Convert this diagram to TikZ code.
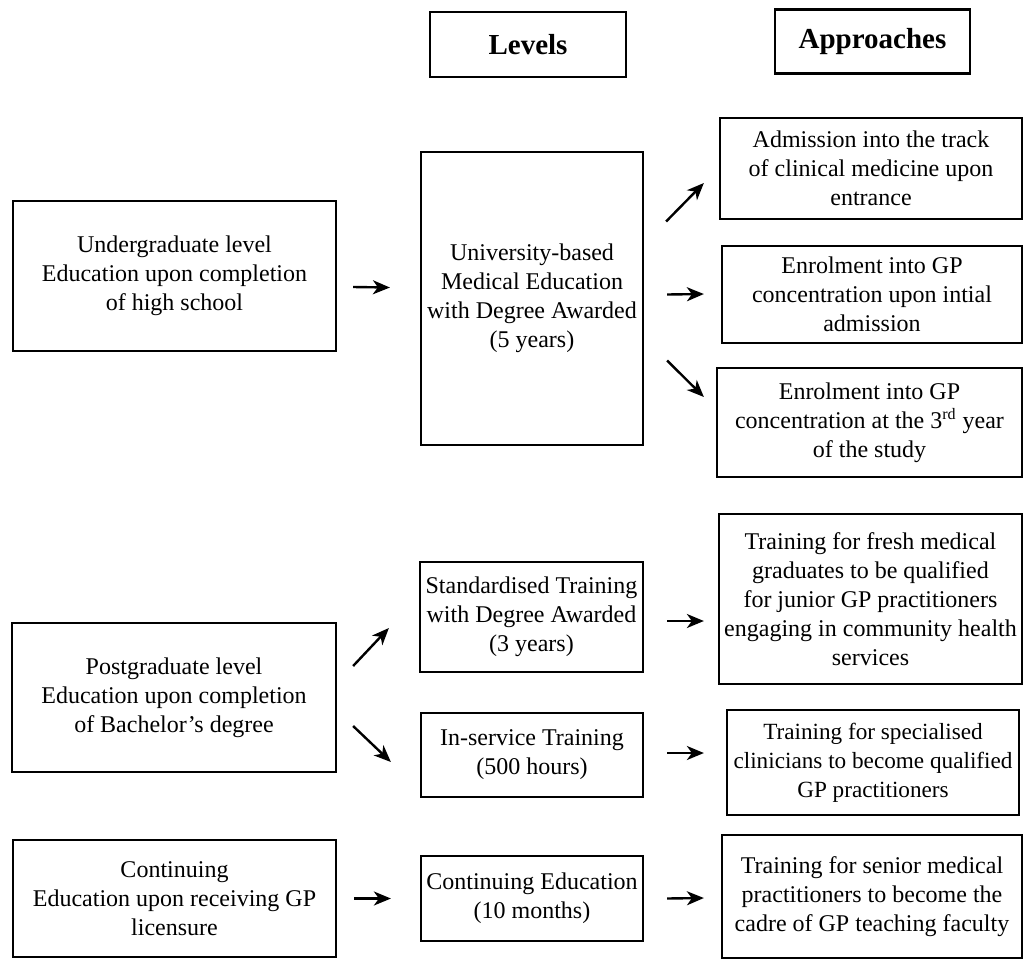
\documentclass[tikz,border=0pt]{standalone}
\usepackage{fontspec}
\setmainfont{Liberation Serif}
\usetikzlibrary{arrows.meta}
\def\unit{0.5pt}

\begin{document}
\begin{tikzpicture}[x=\unit,y=-\unit,line width=1.1pt,
    font=\fontsize{12}{14.5}\selectfont]
    \tikzstyle{box}=[draw=black, align=center, inner sep=0pt]
    \tikzstyle{head}=[box, font=\fontsize{14.5}{17}\selectfont\bfseries]
    \tikzstyle{arr}=[-{Stealth[length=8.5pt,width=7pt,inset=2.5pt]}, line width=1.2pt]

    \useasboundingbox (0,0) rectangle (1024,960);

    % Column headings
    \node[head, minimum width={196*\unit}, minimum height={65*\unit}] (hl) at (528,44.5) {Levels};
    \node[head, minimum width={195*\unit}, minimum height={64*\unit}] (ha) at (872.5,41.5) {Approaches};

    % Draw the stage nodes (left)
    \node[box, minimum width={323*\unit}, minimum height={150*\unit}] (S-1) at (174.5,276)
        {Undergraduate level\\Education upon completion\\of high school};
    \node[box, minimum width={324*\unit}, minimum height={149*\unit}] (S-2) at (174,697.5)
        {Postgraduate level\\Education upon completion\\of Bachelor's degree};
    \node[box, minimum width={323*\unit}, minimum height={117*\unit}] (S-3) at (174.5,898.5)
        {Continuing\\Education upon receiving GP\\licensure};

    % Draw the level nodes (middle)
    \node[box, minimum width={222*\unit}, minimum height={293*\unit}] (L-1) at (532,298.5)
        {University-based\\Medical Education\\with Degree Awarded\\(5 years)};
    \node[box, minimum width={223*\unit}, minimum height={110*\unit}] (L-2) at (531.5,617)
        {Standardised Training\\with Degree Awarded\\(3 years)};
    \node[box, minimum width={222*\unit}, minimum height={84*\unit}] (L-3) at (532,755)
        {In-service Training\\(500 hours)};
    \node[box, minimum width={222*\unit}, minimum height={85*\unit}] (L-4) at (532,898.5)
        {Continuing Education\\(10 months)};

    % Draw the approach nodes (right)
    \node[box, minimum width={302*\unit}, minimum height={101*\unit}] (A-1) at (871,168.5)
        {Admission into the track\\of clinical medicine upon\\entrance};
    \node[box, minimum width={300*\unit}, minimum height={97*\unit}] (A-2) at (872,294.5)
        {Enrolment into GP\\concentration upon intial\\admission};
    \node[box, minimum width={305*\unit}, minimum height={109*\unit}] (A-3) at (869.5,422.5)
        {Enrolment into GP\\concentration at the 3\textsuperscript{rd} year\\of the study};
    \node[box, minimum width={303*\unit}, minimum height={170*\unit}] (A-4) at (870.5,599)
        {Training for fresh medical\\graduates to be qualified\\for junior GP practitioners\\engaging in community health\\services};
    \node[box, minimum width={292*\unit}, minimum height={105*\unit},
        font=\fontsize{11.6}{14.5}\selectfont] (A-5) at (873,762.5)
        {Training for specialised\\clinicians to become qualified\\GP practitioners};
    \node[box, minimum width={300*\unit}, minimum height={123*\unit}] (A-6) at (872,896.5)
        {Training for senior medical\\practitioners to become the\\cadre of GP teaching faculty};

    % Arrows (they float in the gaps between the boxes)
    \draw[arr] ([shift={(16,11)}]S-1.east) -- ([shift={(-30,-11)}]L-1.west);
    \draw[arr] ([shift={(16,-31.5)}]S-2.east) -- ([shift={(-30,11)}]L-2.west);
    \draw[arr] ([shift={(16,28.5)}]S-2.east) -- ([shift={(-29,7)}]L-3.west);
    \draw[arr] ([shift={(17,0)}]S-3.east) -- ([shift={(-29,0)}]L-4.west);

    \draw[arr] ([shift={(22,-77)}]L-1.east) -- ([shift={(-15,14.5)}]A-1.west);
    \draw[arr] ([shift={(23,-4)}]L-1.east) -- ([shift={(-17,-0.5)}]A-2.west);
    \draw[arr] ([shift={(23,62)}]L-1.east) -- ([shift={(-12,-25.5)}]A-3.west);
    \draw[arr] ([shift={(23,4)}]L-2.east) -- ([shift={(-14,22)}]A-4.west);
    \draw[arr] ([shift={(23,-2)}]L-3.east) -- ([shift={(-22,-9.5)}]A-5.west);
    \draw[arr] ([shift={(23,0)}]L-4.east) -- ([shift={(-17,1.5)}]A-6.west);
\end{tikzpicture}
\end{document}
